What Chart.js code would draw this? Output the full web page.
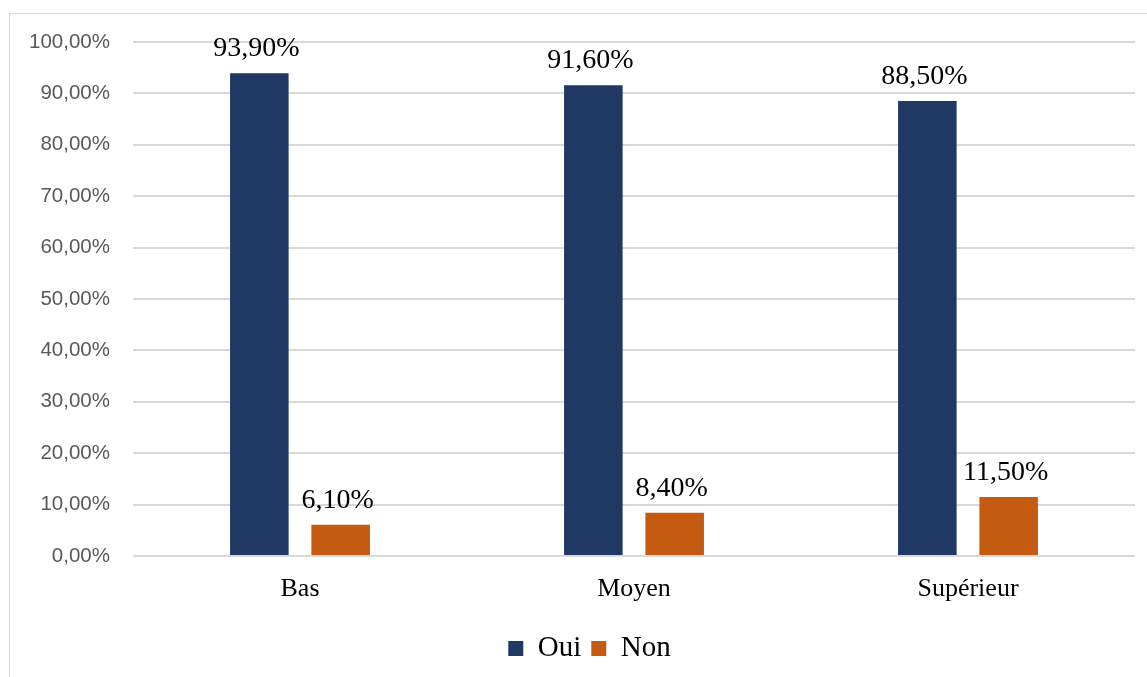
<!DOCTYPE html>
<html>
<head>
<meta charset="utf-8">
<script src="https://cdn.jsdelivr.net/npm/chart.js@4.4.1/dist/chart.umd.min.js"></script>
<style>
  html, body { margin: 0; padding: 0; background: #fff; }
  #wrap { position: relative; width: 1147px; height: 677px; }
  #frame { position: absolute; left: 9px; top: 13px; right: 0; bottom: 0;
           border-left: 1px solid #d9d9d9; border-top: 1px solid #d9d9d9; }
  canvas { position: absolute; left: 0; top: 0; }
</style>
</head>
<body>
<div id="wrap">
  <div id="frame"></div>
  <canvas id="chart" width="1147" height="677"></canvas>
</div>
<script>
// niveaux
const categories = ['Bas', 'Moyen', 'Supérieur'];
const ouiValues = [93.9, 91.6, 88.5];
const nonValues = [6.1, 8.4, 11.5];

const fmt = v => v.toFixed(2).replace('.', ',') + '%';

const valueLabels = {
    id: 'valueLabels',
    afterLayout(chart) {
        // legende un peu decalee a droite comme dans l'original
        chart.legend.left += 22;
        chart.legend.right += 22;
    },
    afterDatasetsDraw(chart) {
        const c = chart.ctx;
        c.save();
        c.font = '28px "Liberation Serif"';
        c.fillStyle = '#000';
        c.textAlign = 'center';
        c.textBaseline = 'alphabetic';
        chart.data.datasets.forEach((ds, i) => {
            chart.getDatasetMeta(i).data.forEach((bar, j) => {
                c.fillText(fmt(ds.data[j]), bar.x - 3, bar.y - 17);
            });
        });
        c.restore();
    }
};

new Chart(document.getElementById('chart'), {
    type: 'bar',
    data: {
        labels: categories,
        datasets: [{
            label: 'Oui',
            data: ouiValues,
            backgroundColor: '#203864'
        }, {
            label: 'Non',
            data: nonValues,
            backgroundColor: '#C55A11'
        }]
    },
    options: {
        responsive: false,
        animation: false,
        categoryPercentage: 0.487,
        barPercentage: 0.72,
        layout: { padding: { top: 42, right: 12, bottom: 4, left: 0 } },
        plugins: {
            legend: {
                position: 'bottom',
                labels: {
                    boxWidth: 15,
                    boxHeight: 15,
                    padding: 10,
                    color: '#000',
                    font: { family: 'Liberation Serif', size: 29 }
                }
            },
            tooltip: { enabled: false }
        },
        scales: {
            x: {
                grid: { display: false, drawTicks: false },
                border: { display: false },
                ticks: {
                    padding: 18,
                    color: '#000',
                    font: { family: 'Liberation Serif', size: 26 }
                },
                afterFit(scale) { scale.height = 68; }
            },
            y: {
                min: 0,
                max: 100,
                ticks: {
                    stepSize: 10,
                    padding: 23,
                    color: '#595959',
                    font: { family: 'Liberation Sans', size: 20.5 },
                    callback: v => fmt(v)
                },
                grid: { color: '#d9d9d9', lineWidth: 2, drawTicks: false },
                border: { display: false },
                afterFit(scale) { scale.width = 133; }
            }
        }
    },
    plugins: [valueLabels]
});
</script>
</body>
</html>
